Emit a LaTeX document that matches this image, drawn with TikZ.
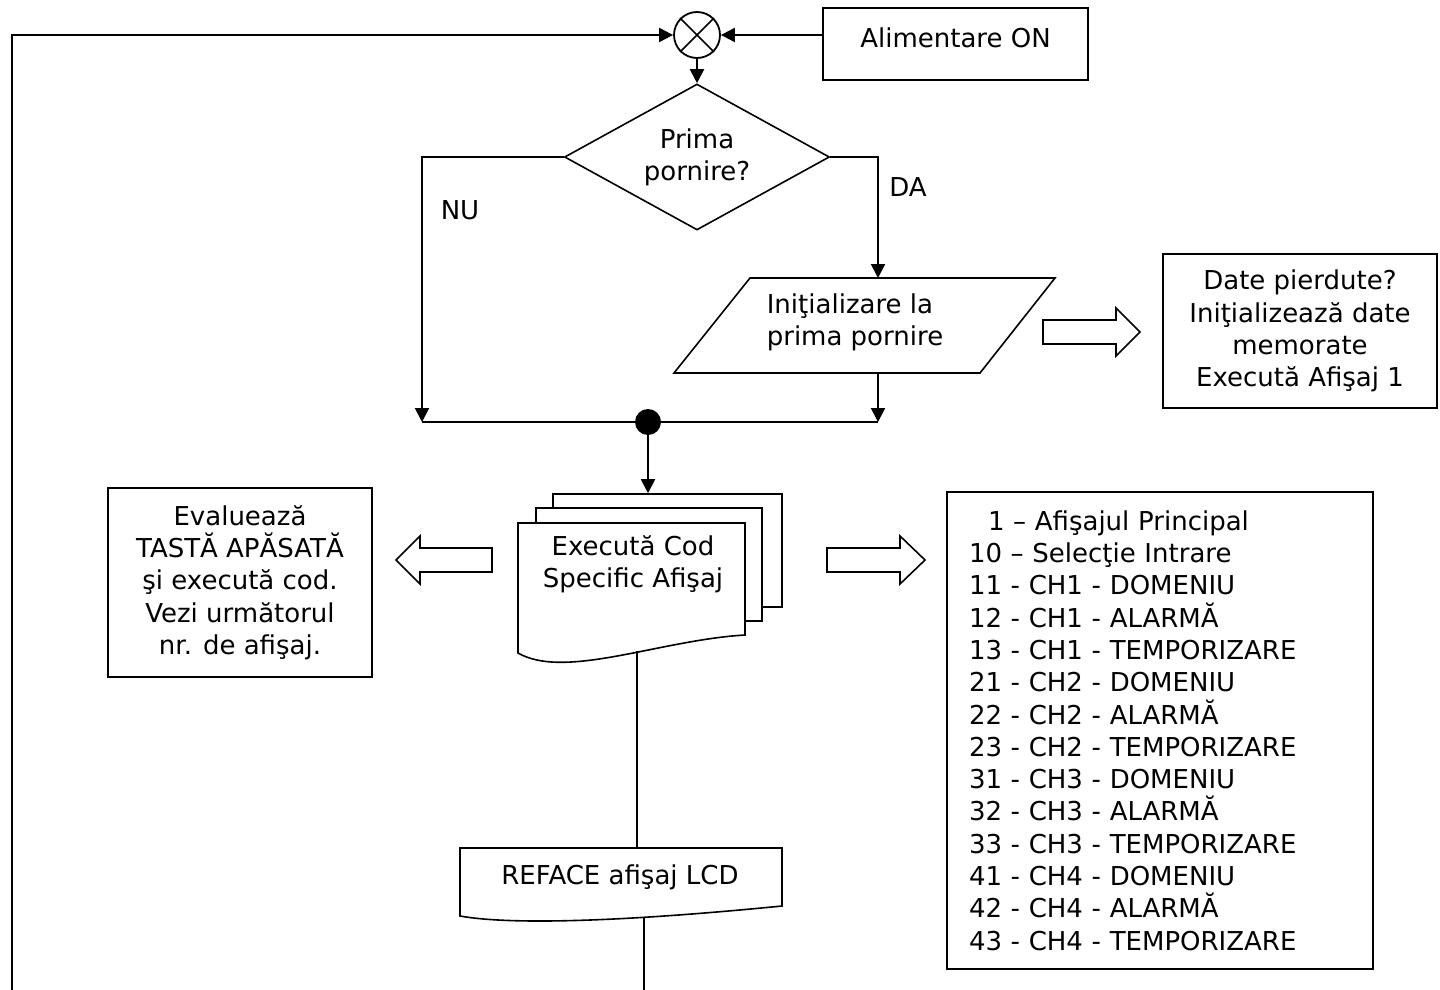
\documentclass[tikz,border=0pt]{standalone}
\usepackage{fontspec}
\setmainfont{DejaVu Sans}
\usetikzlibrary{shapes.geometric,arrows.meta}

\begin{document}
\begin{tikzpicture}[x=1pt,y=1pt,yscale=-1,xscale=1,
	font=\fontsize{26}{32.3}\selectfont,
	arr/.style={line width=2pt,-{Triangle[length=14pt,width=14pt]}},
	wire/.style={line width=2pt},
	edge/.style={line width=1.6pt},
	box/.style={draw,edge,rectangle,align=center,inner sep=0pt}]
	\useasboundingbox (0,0) rectangle (1440,990);
	
	%Shape: Circle [id:sum]
	\node (sum) [draw,circle,line width=1.8pt,minimum size=46,inner sep=0pt] at (697,35) {};
	\draw [edge] (sum.north west) -- (sum.south east) (sum.north east) -- (sum.south west);
	%Shape: Rectangle [id:start]
	\node (start) [box,minimum width=265,minimum height=72,text depth=12pt] at (955.5,44) {Alimentare ON};
	%Shape: Diamond [id:q]
	\node (q) [draw,diamond,edge,aspect=1.8,minimum width=265,minimum height=146,inner sep=0pt,align=center] at (697,157) {Prima\\pornire?};
	%Shape: Parallelogram [id:init]
	\draw [edge] (750,278) -- (1055,278) -- (980,373) -- (674,373) -- cycle;
	\node (init) [align=left] at (855,322) {Iniţializare la\\prima pornire};
	\coordinate (initT) at (878,278);
	\coordinate (initB) at (878,373);
	%Shape: Rectangle [id:lost]
	\node (lost) [box,minimum width=274,minimum height=154] at (1300,331) {Date pierdute?\\Iniţializează date\\memorate\\Execută Afişaj 1};
	%Shape: Join
	\coordinate (barL) at (422,422);
	\coordinate (barR) at (878,422);
	\draw [wire] (barL) -- (barR);
	\node (dot) [circle,fill,inner sep=0pt,minimum size=26] at (648,422) {};
	%Shape: Document stack [id:exec]
	\node (docback) [draw,edge,fill=white,minimum width=229,minimum height=113] at (667.5,550.5) {};
	\node (docmid) [draw,edge,fill=white,minimum width=226,minimum height=113] at (649,564.5) {};
	\draw [edge,fill=white] (518,523) -- (745,523) -- (745,635) .. controls (660,640) and (565,680) .. (518,653) -- cycle;
	\node (exec) [align=center] at (633,564) {Execută Cod\\Specific Afişaj};
	\coordinate (execOut) at (637,651);
	%Shape: Rectangle [id:keys]
	\node (keys) [box,minimum width=264,minimum height=189] at (240,582.5) {Evaluează\\TASTĂ APĂSATĂ\\şi execută cod.\\Vezi următorul\\nr. de afişaj.};
	%Shape: Rectangle [id:list]
	\node (list) [box,align=left,text width=382,inner xsep=22,minimum height=477] at (1160,730.5) {\hspace*{19pt}1 – Afişajul Principal\\10 – Selecţie Intrare\\11 - CH1 - DOMENIU\\12 - CH1 - ALARMĂ\\13 - CH1 - TEMPORIZARE\\21 - CH2 - DOMENIU\\22 - CH2 - ALARMĂ\\23 - CH2 - TEMPORIZARE\\31 - CH3 - DOMENIU\\32 - CH3 - ALARMĂ\\33 - CH3 - TEMPORIZARE\\41 - CH4 - DOMENIU\\42 - CH4 - ALARMĂ\\43 - CH4 - TEMPORIZARE};
	%Shape: Document [id:lcd]
	\draw [edge] (460,848) -- (782,848) -- (782,906) .. controls (620,922) and (510,925) .. (460,916) -- cycle;
	\node (lcd) at (620,877) {REFACE afişaj LCD};
	\coordinate (lcdT) at (637,848);
	\coordinate (lcdOut) at (644,918);
	\coordinate (bot) at (644,990);
	\coordinate (loopB) at (12,990);
	
	%Shape: Block arrows
	\draw [edge] (1043,320) -- (1116,320) -- (1116,308) -- (1140,332) -- (1116,356) -- (1116,344) -- (1043,344) -- cycle;
	\draw [edge] (827,548) -- (900,548) -- (900,536) -- (925,560) -- (900,584) -- (900,572) -- (827,572) -- cycle;
	\draw [edge] (492,548) -- (420,548) -- (420,536) -- (396,560) -- (420,584) -- (420,572) -- (492,572) -- cycle;
	
	%Connectors
	\draw [arr] (start.west |- sum.east) -- (sum.east);
	\draw [arr] (loopB) |- (sum.west);
	\draw [arr] (sum.south) -- (q.north);
	\draw [arr] (q.west) -| (barL);
	\draw [arr] (q.east) -| (initT);
	\draw [arr] (initB) -- (barR);
	\draw [arr] (dot) -- (dot |- docback.north);
	\draw [wire] (execOut) -- (lcdT);
	\draw [wire] (lcdOut) -- (bot);
	
	% Text Node
	\node (nu) at (460,210) {NU};
	% Text Node
	\node (da) at (908,187) {DA};
\end{tikzpicture}
\end{document}
